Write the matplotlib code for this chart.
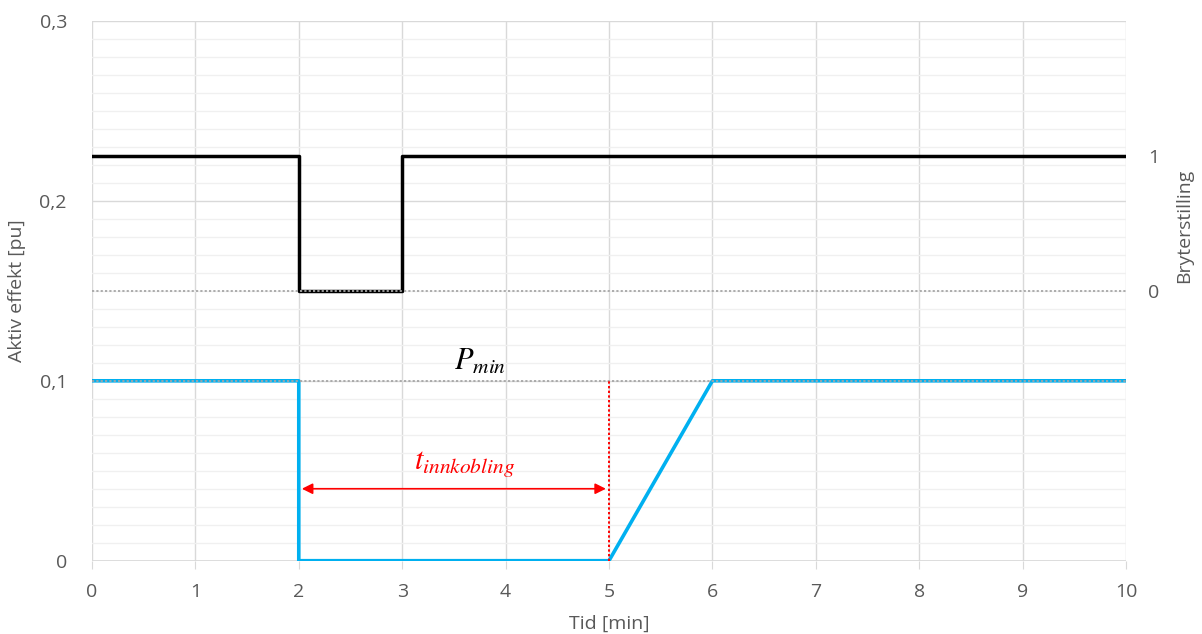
import matplotlib
matplotlib.use("Agg")
import matplotlib.pyplot as plt
import numpy as np

# Data
time_power = [0, 2, 2, 5, 6, 10]
power_pu = [0.1, 0.1, 0, 0, 0.1, 0.1]
time_switch = [0, 2, 2, 3, 3, 10]
switch_state = [1, 1, 0, 0, 1, 1]
p_min = 0.1
t_start, t_end = 2, 5
x_ticks = list(range(0, 11))
y_ticks = [0, 0.1, 0.2, 0.3]
y_tick_labels = ["0", "0,1", "0,2", "0,3"]
right_ticks = [0, 1]

plt.rcParams['font.family'] = ['Open Sans', 'DejaVu Sans']
plt.rcParams['mathtext.fontset'] = 'stix'

fig = plt.figure(figsize=(12.02, 6.34), dpi=100)
ax = fig.add_axes([0.0765, 0.1156, 0.9368 - 0.0765, 0.9669 - 0.1156])
grid_c = '#d9d9d9'
minor_c = '#f0f0f0'
txt_c = '#595959'

ax.set_xlim(0, 10)
ax.set_ylim(0, 0.3)
ax.set_xticks(x_ticks)
ax.set_yticks(y_ticks)
ax.set_yticklabels(y_tick_labels)
ax.set_yticks(np.arange(0, 0.3001, 0.01), minor=True)
ax.grid(True, which='major', color=grid_c, lw=1.0, zorder=0)
ax.grid(True, which='minor', axis='y', color=minor_c, lw=1.0, zorder=0)
ax.set_axisbelow(True)
for s in ax.spines.values():
    s.set_visible(False)
ax.axhline(0, color=grid_c, lw=1.2, zorder=0.5)
ax.tick_params(axis='x', which='major', length=6, color=grid_c, labelcolor=txt_c, labelsize=14, pad=10)
ax.tick_params(axis='y', which='both', length=0, labelcolor=txt_c, labelsize=14, pad=18)
ax.tick_params(axis='x', which='minor', length=0)
ax.set_xlabel('Tid [min]', color=txt_c, fontsize=14, labelpad=10)
ax.set_ylabel('Aktiv effekt [pu]', color=txt_c, fontsize=14, labelpad=10)

ax.plot(time_power, power_pu, color='#00b0f0', lw=2.6, zorder=3)

# secondary axis
ax2 = ax.twinx()
ax2.set_ylim(-2, 2)
ax2.set_yticks(right_ticks)
for s in ax2.spines.values():
    s.set_visible(False)
ax2.tick_params(axis='y', length=0, labelcolor=txt_c, labelsize=14, pad=16)
ax2.set_ylabel('Bryterstilling', color=txt_c, fontsize=14)
ax2.yaxis.set_label_coords(1.047, 0.62)

ax2.plot(time_switch, switch_state, color='black', lw=2.5, zorder=3)
ax2.axhline(0, color='#a6a6a6', lw=1.3, ls=(0, (1.2, 1.2)), zorder=4)

ax.axhline(p_min, color='#a6a6a6', lw=1.3, ls=(0, (1.2, 1.2)), zorder=4)
ax.plot([t_end, t_end], [0, p_min], color='red', lw=1.4, ls=(0, (1.2, 1.2)), zorder=4)
ax2.annotate('', xy=(t_start + 0.03, 0.04), xytext=(t_end - 0.03, 0.04), xycoords=ax.transData,
             textcoords=ax.transData,
             arrowprops=dict(arrowstyle='<|-|>', color='red', lw=1.2,
                             mutation_scale=16, shrinkA=0, shrinkB=0), zorder=5)
ax2.text(3.6, 0.0455, r'$t_{innkobling}$', color='red', fontsize=22, ha='center', va='bottom',
         transform=ax.transData, zorder=5)
ax2.text(3.75, 0.1025, r'$P_{min}$', color='black', fontsize=22, ha='center', va='bottom',
         transform=ax.transData, zorder=5)

fig.savefig('out.png', dpi=100)
